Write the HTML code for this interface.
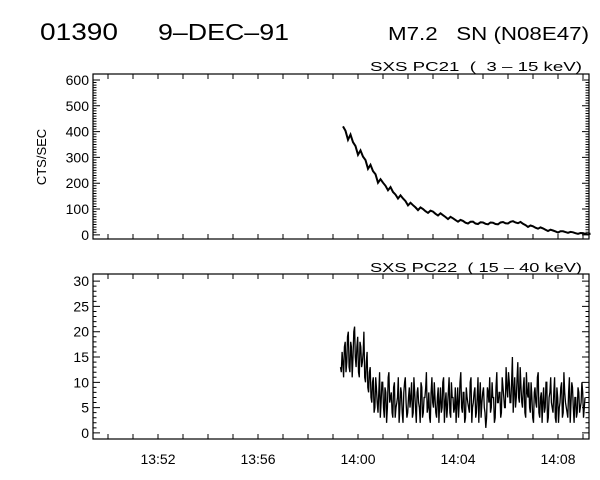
<!DOCTYPE html>
<html><head><meta charset="utf-8"><style>
body{margin:0;background:#fff}
svg{display:block}
text{font-family:"Liberation Sans",sans-serif;fill:#000}
</style></head><body>
<svg id="c" width="600" height="480" viewBox="0 0 600 480" xmlns="http://www.w3.org/2000/svg">
<text x="40" y="40" font-size="24" textLength="78" lengthAdjust="spacingAndGlyphs">01390</text>
<text x="158" y="40" font-size="23" font-weight="300" textLength="131" lengthAdjust="spacingAndGlyphs">9–DEC–91</text>
<text x="388" y="40" font-size="18" textLength="201" lengthAdjust="spacingAndGlyphs" xml:space="preserve">M7.2   SN (N08E47)</text>
<text x="370" y="71" font-size="13" textLength="212" lengthAdjust="spacingAndGlyphs" xml:space="preserve">SXS PC21  (  3 – 15 keV)</text>
<text x="370" y="272" font-size="13" textLength="212" lengthAdjust="spacingAndGlyphs" xml:space="preserve">SXS PC22  ( 15 – 40 keV)</text>
<text transform="translate(46,157) rotate(-90)" font-size="13" text-anchor="middle">CTS/SEC</text>
</svg>
<script>
// time axis in minutes after 13:00
const xTickLabels=["13:52","13:56","14:00","14:04","14:08"];
const xTickMinutes=[52,56,60,64,68];
const topTicks=[0,100,200,300,400,500,600];
const botTicks=[0,5,10,15,20,25,30];
const pc21Start=59.4, pc21Step=0.2;
const pc21Values=[410,380,350,320,295,265,240,210,195,180,160,148,135,120,110,102,95,90,85,80,72,66,60,55,50,48,47,46,45,45,44,45,47,48,50,48,40,34,30,27,22,18,15,12,12,10,8,6,5,4];
const pc21Noise=[10,-12,9,-10,8,-9,7,-8,7,-7,6,-7,6,-6,5,-6,5,-5,5,-5,4,-5,4,-4,4,-4,4,-4,3,-4,3,-4,3,-4,3,-3,3,-3,3,-3,3,-3,2,-3,2,-2,2,-2,2,-2];
const pc22Start=59.3, pc22Step=0.0625;
const pc22Values=[13,16,11,18,14,20,12,17,15,21,13,19,11,17,14,20,10,16,8,13,6,11,5,9,4,12,6,10,3,8,5,12,7,4,9,3,6,11,5,8,2,10,6,4,9,7,3,11,5,8,6,2,9,4,7,12,5,3,8,6,10,4,7,2,9,5,11,6,3,8,4,10,7,5,2,9,6,12,4,8,3,7,5,10,2,6,9,4,11,7,3,8,5,1,9,6,4,10,7,3,12,6,8,4,9,5,13,7,10,6,15,8,5,11,7,13,6,9,4,12,7,5,10,3,8,6,11,4,7,2,9,5,10,3,8,6,4,11,2,7,5,9,3,12,6,4,8,2,10,5,7,3,9,4,6,8,5];
const pc22HalfValues=[12,14,17,12,19,13,18,11,20,15,17,12,18,13,16,11,14,9,12,7,10,4,11,6,8,3,10,5,9,2,11,6,8,3,10,5,7,2,9,4,8,11,3,7,5,10,4,8,2,9,5,10,3,7,9,4,8,2,11,5,7,3,9,6,4,10,2,8,5,11,3,7,4,9,6,3,10,5,8,2,9,6,4,11,5,8,3,7,2,10,6,9,4,3,8,11,5,7,2,9,6,8,3,11,7,5,9,12,6,10,4,11,7,14,6,9,5,11,3,8,10,4,7,2,9,5,12,3,8,6,4,10,2,7,11,5,8,3,9,2,6,10,4,8,5,3,11,6,9,2,7,4,8,5,10,3,7,6,4,7];
const X0=93,X1=589,xMin=49.4,xMax=69.24;
const NS="http://www.w3.org/2000/svg";
const svg=document.getElementById('c');
function x(m){return X0+(m-xMin)/(xMax-xMin)*(X1-X0);}
function mk(t,a){const e=document.createElementNS(NS,t);for(const k in a)e.setAttribute(k,a[k]);svg.appendChild(e);return e;}
function panel(name,top,bot,vMin,vMax,ticks,minorStep,labelled){
  const y=v=>bot-(v-vMin)/(vMax-vMin)*(bot-top);
  const f=mk('rect',{x:X0,y:top,width:X1-X0,height:bot-top,fill:'none',stroke:'#000','stroke-width':1.2});
  
  
  let d='';
  for(let v=ticks[0];v<=ticks[ticks.length-1]+1e-9;v+=minorStep){
    const isMaj=ticks.some(t=>Math.abs(t-v)<1e-6);const L=isMaj?7:3.5;const yy=y(v);
    d+=`M${X0} ${yy}h${L}M${X1} ${yy}h${-L}`;
  }
  for(let m=50;m<=69;m++){const xx=x(m);d+=`M${xx} ${bot}v-5M${xx} ${top}v5`;}
  const t=mk('path',{d:d,stroke:'#000','stroke-width':1,fill:'none'});
  
  
  ticks.forEach(v=>{const e=mk('text',{x:X0-4,y:y(v)+5,'font-size':14,'text-anchor':'end'});e.textContent=v;
    
    });
  if(labelled){xTickLabels.forEach((s,i)=>{const e=mk('text',{x:x(xTickMinutes[i]),y:bot+25,'font-size':14,'text-anchor':'middle'});e.textContent=s;
    
    });}
  return y;
}
const yT=panel('top-panel',74,239,-16,623,topTicks,10,false);
const yB=panel('bottom-panel',274,439,-1.2,31.4,botTicks,1,true);
let p='';
pc21Values.forEach((v,i)=>{p+=(i?'L':'M')+x(pc21Start+i*pc21Step).toFixed(1)+' '+yT(v+pc21Noise[i]).toFixed(1);
  p+='L'+x(pc21Start+(i+0.5)*pc21Step).toFixed(1)+' '+yT(v-pc21Noise[i]*0.7).toFixed(1);});
const l1=mk('path',{d:p,stroke:'#000','stroke-width':2,fill:'none'});


p='';
pc22Values.forEach((v,i)=>{p+=(i?'L':'M')+x(pc22Start+i*pc22Step).toFixed(1)+' '+yB(v).toFixed(1);
  p+='L'+x(pc22Start+(i+0.5)*pc22Step).toFixed(1)+' '+yB(pc22HalfValues[i]).toFixed(1);});
const l2=mk('path',{d:p,stroke:'#000','stroke-width':1.3,fill:'none'});


</script>
</body></html>
